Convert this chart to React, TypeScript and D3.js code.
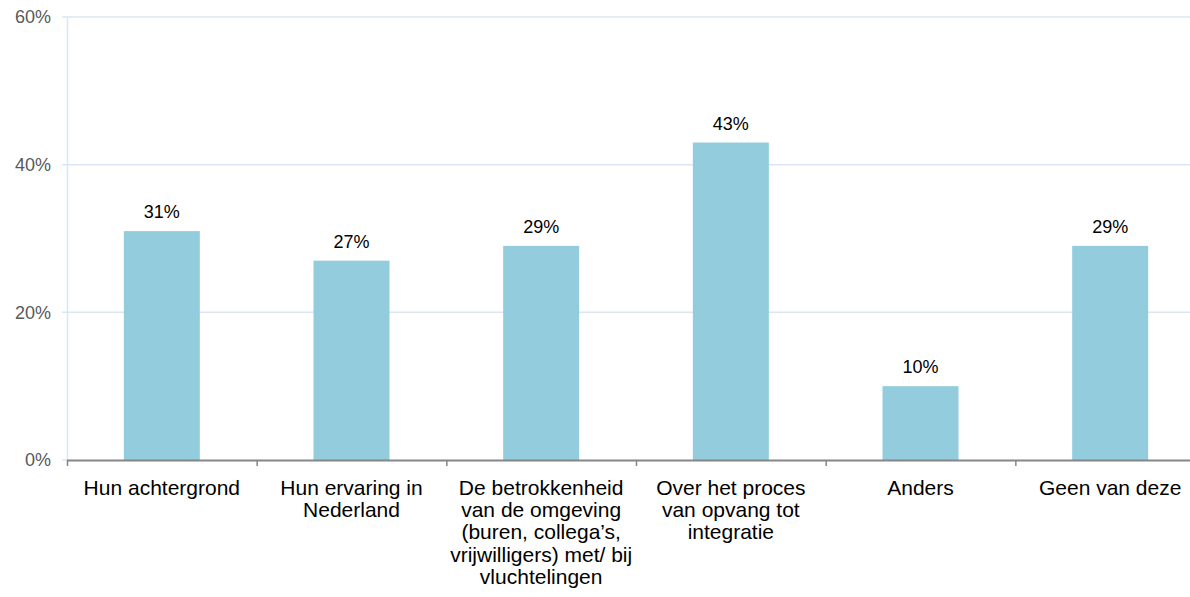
import React, { useEffect, useRef } from "react";
import * as d3 from "d3";

const categories: string[][] = [
  ["Hun achtergrond"],
  ["Hun ervaring in", "Nederland"],
  ["De betrokkenheid", "van de omgeving", "(buren, collega’s,", "vrijwilligers) met/ bij", "vluchtelingen"],
  ["Over het proces", "van opvang tot", "integratie"],
  ["Anders"],
  ["Geen van deze"],
];
const values: number[] = [31, 27, 29, 43, 10, 29];
const yTicks: number[] = [0, 20, 40, 60];

const W = 1190;
const H = 597;

export default function App() {
  const ref = useRef<SVGSVGElement>(null);
  useEffect(() => {
    const svg = d3.select(ref.current);
    svg.selectAll("*").remove();
    const x0 = 67, x1 = 1205;
    const y = d3.scaleLinear().domain([0, 60]).range([460, 17]);
    const x = d3.scaleBand<number>().domain(values.map((_, i) => i)).range([x0, x1]).paddingInner(0).paddingOuter(0);
    const font = "Arial, 'Liberation Sans', sans-serif";

    // gridlines
    svg.append("g").selectAll("line").data(yTicks.filter(t => t > 0)).join("line")
      .attr("x1", 62).attr("x2", W).attr("y1", d => y(d)).attr("y2", d => y(d))
      .attr("stroke", "#DCE6F2").attr("stroke-width", 1.5);
    svg.append("line").attr("x1", 62).attr("x2", 67).attr("y1", y(0)).attr("y2", y(0))
      .attr("stroke", "#DCE6F2").attr("stroke-width", 1.5);
    svg.append("line").attr("x1", 67.5).attr("x2", 67.5).attr("y1", y(60)).attr("y2", y(0))
      .attr("stroke", "#DCE6F2").attr("stroke-width", 1.5);

    // y labels
    svg.append("g").selectAll("text").data(yTicks).join("text")
      .attr("x", 51).attr("y", d => y(d)).attr("dy", "0.35em")
      .attr("text-anchor", "end").attr("font-family", font).attr("font-size", 18)
      .attr("fill", "#595959").text(d => `${d}%`);

    // bars
    const bw = 76;
    svg.append("g").selectAll("rect").data(values).join("rect")
      .attr("x", (_, i) => x(i)! + x.bandwidth() / 2 - bw / 2)
      .attr("width", bw)
      .attr("y", d => y(d)).attr("height", d => y(0) - y(d))
      .attr("fill", "#93CDDD");

    // value labels
    svg.append("g").selectAll("text").data(values).join("text")
      .attr("x", (_, i) => x(i)! + x.bandwidth() / 2)
      .attr("y", d => y(d) - 13)
      .attr("text-anchor", "middle").attr("font-family", font).attr("font-size", 18)
      .attr("fill", "#000").text(d => `${d}%`);

    // x axis
    svg.append("line").attr("x1", x0).attr("x2", W).attr("y1", 460.5).attr("y2", 460.5)
      .attr("stroke", "#868686").attr("stroke-width", 2);
    svg.append("g").selectAll("line").data(d3.range(values.length + 1)).join("line")
      .attr("x1", i => x0 + i * x.step() + 0.5).attr("x2", i => x0 + i * x.step() + 0.5)
      .attr("y1", 460).attr("y2", 466).attr("stroke", "#868686").attr("stroke-width", 1.5);

    // category labels
    const cg = svg.append("g");
    categories.forEach((lines, i) => {
      const t = cg.append("text").attr("text-anchor", "middle").attr("font-family", font)
        .attr("font-size", 21).attr("fill", "#000");
      lines.forEach((ln, j) => {
        t.append("tspan").attr("x", x(i)! + x.bandwidth() / 2).attr("y", 495 + j * 22.2).text(ln);
      });
    });
  }, []);
  return (
    <svg ref={ref} width={W} height={H} style={{ position: "absolute", left: 0, top: 0, background: "#fff" }} />
  );
}
